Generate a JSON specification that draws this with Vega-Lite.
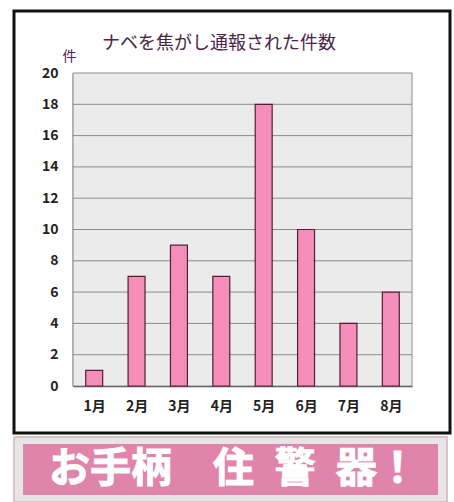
{
  "$schema": "https://vega.github.io/schema/vega-lite/v6.json",
  "background": "white",
  "padding": {"left": 12, "top": 9, "right": 0, "bottom": 0},
  "spacing": 1,
  "config": {"font": "Noto Sans CJK JP", "concat": {"spacing": 1}},
  "vconcat": [
    {
      "width": 436,
      "height": 422,
      "view": {"stroke": "#111111", "strokeWidth": 3, "fill": "white"},
      "title": {
        "text": "ナベを焦がし通報された件数",
        "fontSize": 18,
        "fontWeight": "normal",
        "color": "#4a2545",
        "offset": -42,
        "dx": -13,
        "anchor": "middle"
      },
      "layer": [
        {
          "data": {"values": [{}]},
          "mark": {"type": "rect", "fill": "#ebebeb", "stroke": "#8c8c8c", "strokeWidth": 1},
          "encoding": {
            "x": {"datum": 0, "type": "quantitative", "scale": {"domain": [0, 1], "range": [59, 398], "nice": false, "zero": false}, "axis": null},
            "x2": {"datum": 1},
            "y": {"datum": 0, "type": "quantitative", "scale": {"domain": [0, 20], "range": [375, 62], "nice": false, "zero": false}},
            "y2": {"datum": 20}
          }
        },
        {
          "data": {"values": [{"v": 2}, {"v": 4}, {"v": 6}, {"v": 8}, {"v": 10}, {"v": 12}, {"v": 14}, {"v": 16}, {"v": 18}]},
          "mark": {"type": "rule", "color": "#8a8a8a", "strokeWidth": 1},
          "encoding": {
            "x": {"datum": 0, "type": "quantitative", "scale": {"domain": [0, 1], "range": [59, 398], "nice": false, "zero": false}, "axis": null},
            "x2": {"datum": 1},
            "y": {"field": "v", "type": "quantitative"}
          }
        },
        {
          "data": {"values": [
            {"month": "1月", "count": 1},
            {"month": "2月", "count": 7},
            {"month": "3月", "count": 9},
            {"month": "4月", "count": 7},
            {"month": "5月", "count": 18},
            {"month": "6月", "count": 10},
            {"month": "7月", "count": 4},
            {"month": "8月", "count": 6}
          ]},
          "mark": {"type": "bar", "fill": "#f58fba", "stroke": "#4f1f3a", "strokeWidth": 1.2},
          "encoding": {
            "x": {
              "field": "month", "type": "ordinal", "sort": null,
              "scale": {"range": [59, 398], "paddingInner": 0.6, "paddingOuter": 0.3},
              "axis": {
                "title": null, "labelAngle": 0, "offset": -47,
                "domainColor": "#444444", "domainWidth": 1.5,
                "ticks": true, "tickBand": "extent", "tickSize": -4, "tickColor": "#999999",
                "labelPadding": 17, "labelFontSize": 14, "labelFontWeight": "bold", "labelColor": "#222222"
              }
            },
            "y": {
              "field": "count", "type": "quantitative",
              "axis": {
                "title": "件", "titleAngle": 0, "titleX": -4, "titleY": 45,
                "titleAlign": "center", "titleBaseline": "middle",
                "titleFontSize": 14, "titleFontWeight": "normal", "titleColor": "#4a2545",
                "offset": -59, "grid": false, "ticks": false,
                "domainColor": "#444444", "domainWidth": 1.5,
                "labelPadding": 15, "labelFontSize": 14, "labelFontWeight": "bold", "labelColor": "#222222",
                "values": [0, 2, 4, 6, 8, 10, 12, 14, 16, 18, 20]
              }
            }
          }
        }
      ],
      "resolve": {"scale": {"x": "independent"}, "axis": {"x": "independent"}}
    },
    {
      "width": 433,
      "height": 65,
      "view": {"stroke": "#cdb5c0", "strokeWidth": 1.5, "fill": "#e8e5e7"},
      "data": {"values": [{}]},
      "layer": [
        {
          "mark": {"type": "rect", "fill": "#e084ac"},
          "encoding": {
            "x": {"datum": 0, "type": "quantitative", "scale": {"domain": [-0.0217, 1.0217], "nice": false, "zero": false}, "axis": null},
            "x2": {"datum": 1},
            "y": {"datum": 0, "type": "quantitative", "scale": {"domain": [-0.137, 1.137], "nice": false, "zero": false}, "axis": null},
            "y2": {"datum": 1}
          }
        },
        {
          "mark": {"type": "text", "text": "お手柄　住\u2002警\u2002器！", "fontSize": 41, "fontWeight": "bold", "fill": "white", "stroke": "white", "strokeWidth": 1, "align": "center", "baseline": "middle", "dx": 3},
          "encoding": {
            "x": {"datum": 0.5, "type": "quantitative"},
            "y": {"datum": 0.5, "type": "quantitative"}
          }
        }
      ]
    }
  ]
}
